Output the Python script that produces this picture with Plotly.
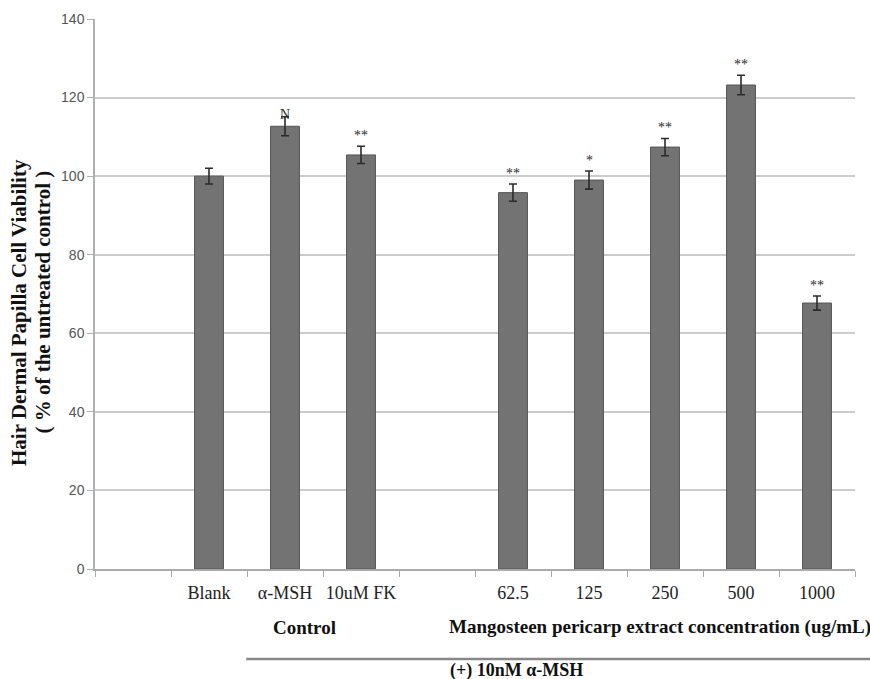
import plotly.graph_objects as go

# Slots along the x axis (blank slots separate the groups)
slots = [" ", "Blank", "α-MSH", "10uM FK", "  ", "62.5", "125", "250", "500", "1000"]
categories = ["Blank", "α-MSH", "10uM FK", "62.5", "125", "250", "500", "1000"]
viability = [100.0, 112.7, 105.4, 95.8, 99.0, 107.4, 123.2, 67.7]
errors = [2.0, 2.4, 2.2, 2.2, 2.3, 2.2, 2.5, 1.8]
marks = ["", "N", "**", "**", "*", "**", "**", "**"]
y_ticks = [0, 20, 40, 60, 80, 100, 120, 140]

serif = "Liberation Serif"
sans = "Liberation Sans, Arial, sans-serif"

# Plot area geometry in pixels, used to place text below the axis
H, T, B = 679, 19, 110
plot_h = H - T - B
axis_row = H - B


def below_axis(row):
    """Paper y coordinate of a pixel row below the x axis."""
    return -(row - axis_row) / plot_h


def paper_y(row):
    """Paper y coordinate of any pixel row."""
    return (axis_row - row) / plot_h


fig = go.Figure()
fig.add_trace(go.Bar(
    x=categories,
    y=viability,
    width=0.38,
    marker=dict(color="#737373", line=dict(color="#555555", width=1)),
    error_y=dict(type="data", array=errors, visible=True,
                 color="#2b2b2b", thickness=1.6, width=4),
    showlegend=False,
))

# Significance marks above the error bars (placed by slot index)
for c, v, e, m in zip(categories, viability, errors, marks):
    if m:
        fig.add_annotation(x=slots.index(c), y=v + e, text=m, showarrow=False,
                           yanchor="bottom", yshift=-7 if m == "N" else 1,
                           font=dict(family=serif, size=14 if m == "N" else 14,
                                     color="#2a2a2a"))

# Y-axis title, two rotated lines
for xpos, row, line in [(-0.1, 313, "Hair Dermal Papilla Cell Viability"),
                        (-0.069, 302, "( % of the untreated control )")]:
    fig.add_annotation(x=xpos, xref="paper", y=paper_y(row), yref="paper",
                       text=f"<b>{line}</b>", textangle=-90,
                       showarrow=False, xanchor="center", yanchor="middle",
                       font=dict(family=serif, size=21, color="#111111"))

# Group labels under the axis
fig.add_annotation(x=0.275, xref="paper", y=below_axis(627), yref="paper",
                   text="<b>Control</b>", showarrow=False,
                   xanchor="center", yanchor="middle",
                   font=dict(family=serif, size=19, color="#111111"))
fig.add_annotation(x=0.743, xref="paper", y=below_axis(627), yref="paper",
                   text="<b>Mangosteen pericarp extract concentration (ug/mL)</b>",
                   showarrow=False, xanchor="center", yanchor="middle",
                   font=dict(family=serif, size=19, color="#111111"))
fig.add_shape(type="line", xref="paper", yref="paper", x0=0.199, x1=1.02,
              y0=below_axis(659), y1=below_axis(659),
              line=dict(color="#888888", width=2.5))
fig.add_annotation(x=0.555, xref="paper", y=below_axis(670), yref="paper",
                   text="<b>(+) 10nM α-MSH</b>", showarrow=False,
                   xanchor="center", yanchor="middle",
                   font=dict(family=serif, size=18, color="#111111"))

fig.update_layout(
    width=870, height=H,
    margin=dict(l=95, r=15, t=T, b=B),
    paper_bgcolor="white", plot_bgcolor="white",
    xaxis=dict(
        type="category", categoryorder="array", categoryarray=slots,
        tickson="boundaries", ticks="outside", ticklen=6, tickcolor="#aaaaaa",
        showline=True, linecolor="#aaaaaa", linewidth=1.5,
        showgrid=False, tickangle=0, ticklabelstandoff=7,
        tickfont=dict(family=serif, size=18, color="#222222"),
        range=[-0.5, 9.5],
    ),
    yaxis=dict(
        range=[0, 140], tickvals=y_ticks,
        ticks="outside", ticklen=6, tickcolor="#b0b0b0",
        showline=True, linecolor="#b0b0b0", linewidth=1.5,
        showgrid=True, gridcolor="#cccccc", gridwidth=1.5,
        zeroline=False,
        tickfont=dict(family=sans, size=14, color="#555555"),
    ),
)

fig.write_html("out.html")
